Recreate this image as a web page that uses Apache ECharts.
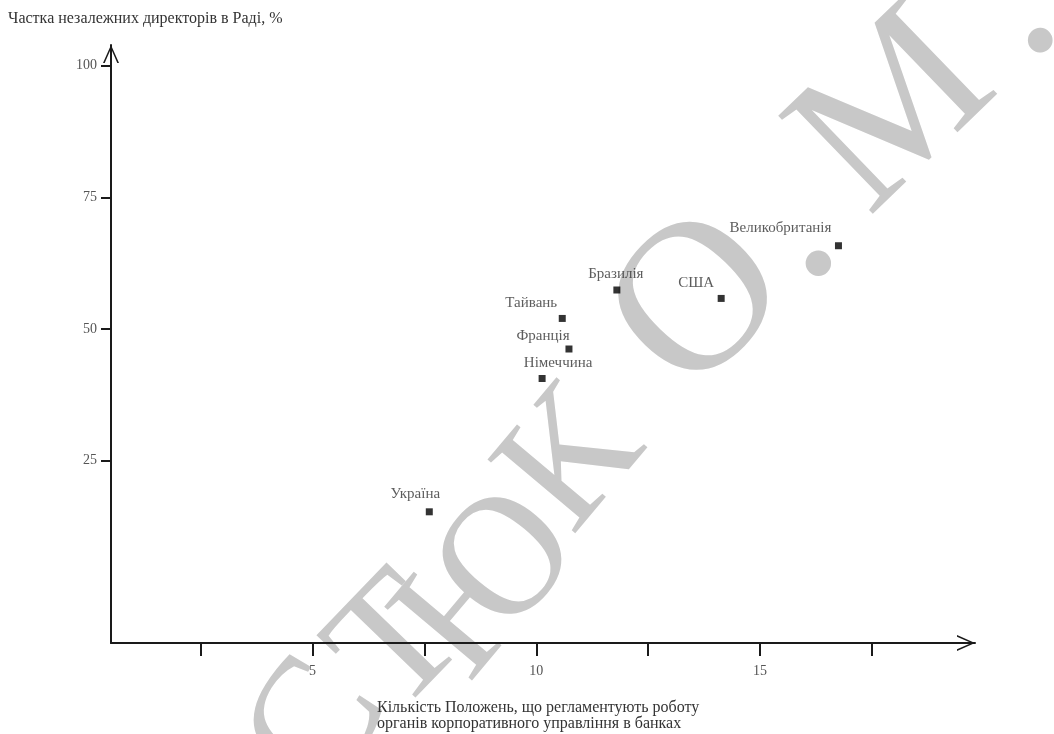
<!DOCTYPE html>
<html>
<head>
<meta charset="utf-8">
<title>Незалежні директори та положення про корпоративне управління</title>
<script src="https://cdn.jsdelivr.net/npm/echarts@6/dist/echarts.min.js"></script>
<style>
  html, body { margin: 0; padding: 0; background: #ffffff; }
  #chart { width: 1054px; height: 734px; }
</style>
</head>
<body>
<div id="chart"></div>
<script>
// ---- data ----
const countries = ['Україна', 'Німеччина', 'Франція', 'Тайвань', 'Бразилія', 'США', 'Великобританія'];
// number of regulations governing corporate-governance bodies in banks
const provisions = [7.61, 10.13, 10.73, 10.58, 11.80, 14.13, 16.75];
// share of independent directors on the board, %
const independentShare = [15.3, 40.6, 46.2, 52.0, 57.4, 55.8, 65.8];

const xTicks = [2.5, 5, 7.5, 10, 12.5, 15, 17.5];
const xTickLabels = [5, 10, 15];
const yTicks = [25, 50, 75, 100];

const yAxisTitle = 'Частка незалежних директорів в Раді, %';
const xAxisTitle = ['Кількість Положень, що регламентують роботу', 'органів корпоративного управління в банках'];

const watermarkText = 'СТЮК О. М.';

// ---- presentation ----
const serif = "'Liberation Serif', 'Times New Roman', 'DejaVu Serif', serif";

// label nudges (px) per country, relative to the default "top" placement
const labelNudge = {
  'Україна': [-14, -2],
  'Німеччина': [16, 1],
  'Франція': [-26, 3],
  'Тайвань': [-31, 1],
  'Бразилія': [-1, 0],
  'США': [-25, 1],
  'Великобританія': [-58, -2]
};

// arched watermark: one glyph per entry (glyph centre, tilt in degrees, font size)
const watermarkLayout = [
  { cx: 310, cy: 722, deg: 58, size: 175 },
  { cx: 392, cy: 638, deg: 46, size: 175 },
  { cx: 482, cy: 578, deg: 50, size: 175 },
  { cx: 565, cy: 455, deg: 50, size: 175 },
  null,
  { cx: 692, cy: 295, deg: 46, size: 214 },
  { cx: 818, cy: 263, deg: 45, size: 214 },
  null,
  { cx: 887, cy: 104, deg: 44, size: 208 },
  { cx: 1040, cy: 40, deg: 44, size: 208 }
];

const watermarkGraphics = [];
Array.from(watermarkText).forEach((ch, i) => {
  const g = watermarkLayout[i];
  if (!g || ch === ' ') return;
  const rad = g.deg * Math.PI / 180;
  // glyph "down" direction after rotation
  const dx = Math.sin(rad), dy = Math.cos(rad);
  // distance from the em-box middle down to the wanted centre point
  const drop = ch === '.' ? -0.216 : 0.07;
  watermarkGraphics.push({
    type: 'text',
    x: g.cx + drop * g.size * dx,
    y: g.cy + drop * g.size * dy,
    rotation: rad,
    z: -10,
    silent: true,
    style: {
      text: ch,
      fontFamily: serif,
      fontSize: g.size,
      fill: '#c8c8c8',
      align: 'center',
      verticalAlign: 'middle',
      textAlign: 'center',
      textVerticalAlign: 'middle'
    }
  });
});

// open chevron arrowhead, pointing up in its own frame
const chevron = 'path://M8,0 L16,18 L14.3,18 L8,3.6 L1.7,18 L0,18 Z';

const axisLineStyle = { color: '#1a1a1a', width: 2 };

const chart = echarts.init(document.getElementById('chart'), null, { renderer: 'canvas' });

chart.setOption({
  animation: false,
  backgroundColor: '#ffffff',
  title: [
    {
      text: yAxisTitle,
      left: 8,
      top: 11,
      padding: 0,
      textStyle: { fontFamily: serif, fontSize: 16, fontWeight: 'normal', color: '#333', lineHeight: 16 }
    },
    {
      text: xAxisTitle.join('\n'),
      left: 377,
      top: 700,
      padding: 0,
      textStyle: { fontFamily: serif, fontSize: 16, fontWeight: 'normal', color: '#333', lineHeight: 16 }
    }
  ],
  graphic: watermarkGraphics,
  grid: { left: 111, right: 79, top: 45, bottom: 91 },
  xAxis: {
    type: 'value',
    min: 0.5,
    max: 19.8,
    splitLine: { show: false },
    axisLine: {
      show: true,
      onZero: false,
      lineStyle: axisLineStyle,
      symbol: ['none', chevron],
      symbolSize: [16, 18],
      symbolOffset: [0, -9]
    },
    axisTick: {
      show: true,
      inside: false,
      length: 13,
      lineStyle: { color: '#1a1a1a', width: 2 },
      customValues: xTicks
    },
    axisLabel: {
      show: true,
      margin: 21,
      fontFamily: serif,
      fontSize: 14,
      color: '#555',
      customValues: xTickLabels
    }
  },
  yAxis: {
    type: 'value',
    min: -9.6,
    max: 103.9,
    splitLine: { show: false },
    axisLine: {
      show: true,
      onZero: false,
      lineStyle: axisLineStyle,
      symbol: ['none', chevron],
      symbolSize: [16, 18],
      symbolOffset: [0, -9]
    },
    axisTick: {
      show: true,
      inside: false,
      length: 10,
      lineStyle: { color: '#1a1a1a', width: 2 },
      customValues: yTicks
    },
    axisLabel: {
      show: true,
      margin: 14,
      fontFamily: serif,
      fontSize: 14,
      color: '#555',
      padding: [0, 0, 10, 0],
      customValues: yTicks
    }
  },
  series: [
    {
      type: 'scatter',
      symbol: 'rect',
      symbolSize: 7,
      itemStyle: { color: '#000000' },
      label: {
        show: true,
        position: 'top',
        distance: 5,
        formatter: '{b}',
        fontFamily: serif,
        fontSize: 15,
        color: '#333'
      },
      data: countries.map((c, i) => ({
        name: c,
        value: [provisions[i], independentShare[i]],
        label: { offset: labelNudge[c] }
      }))
    }
  ]
});
</script>
</body>
</html>
